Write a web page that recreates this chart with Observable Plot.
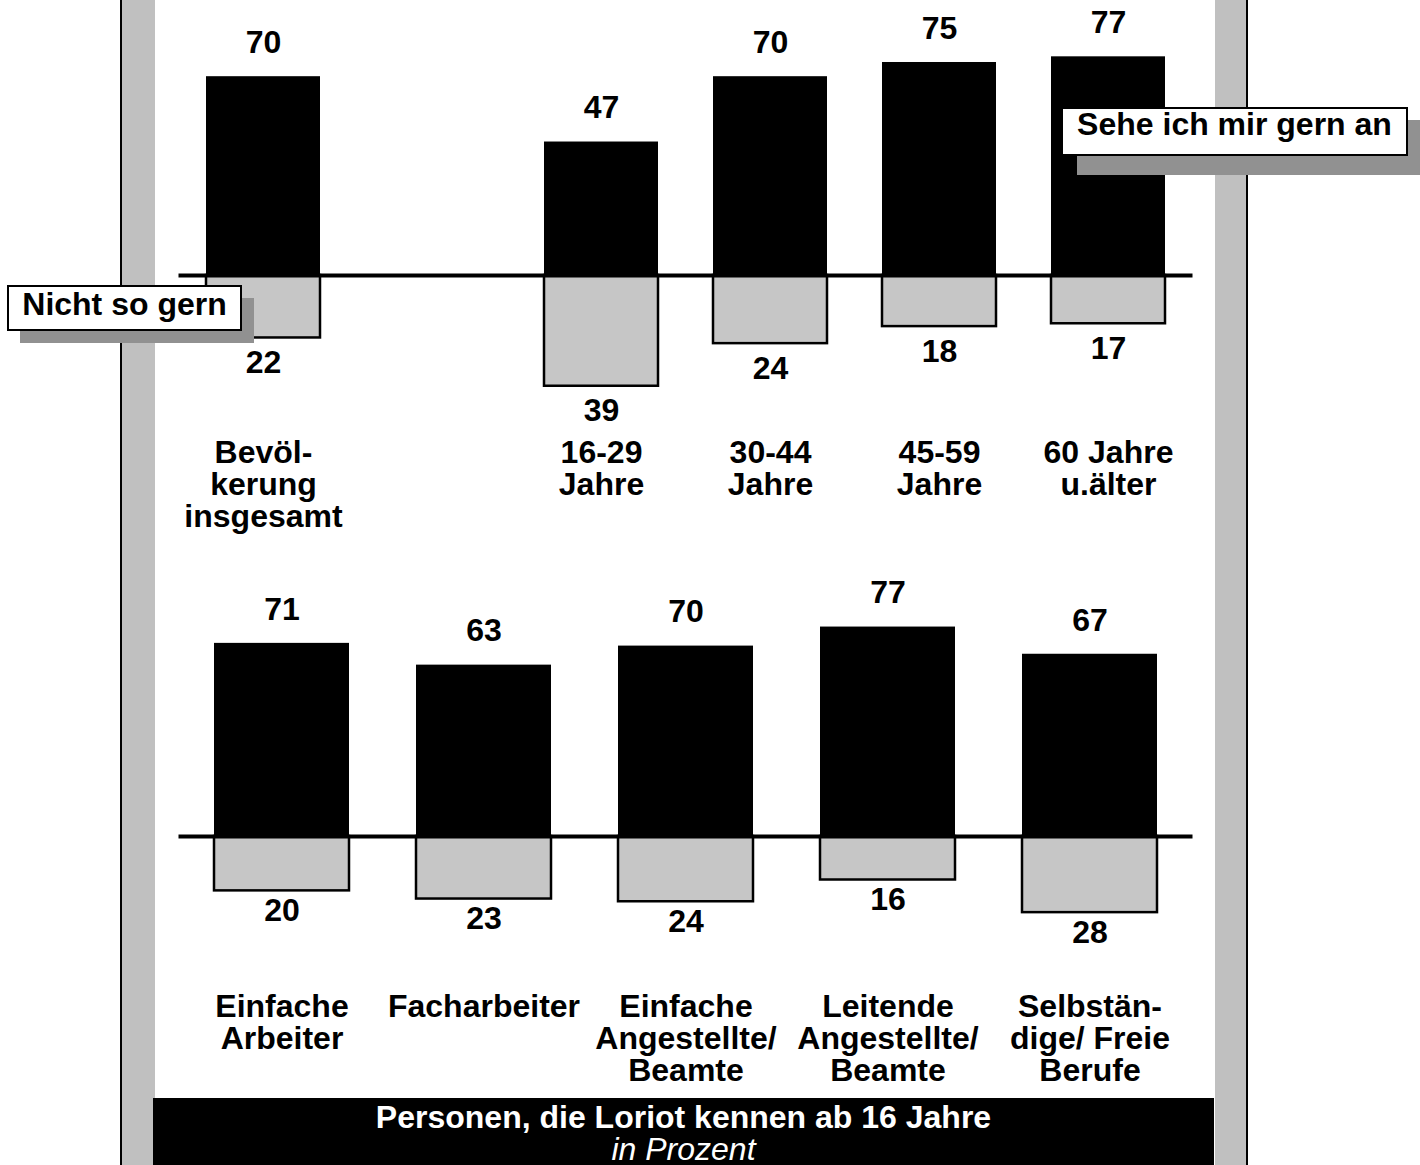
<!DOCTYPE html>
<html>
<head>
<meta charset="utf-8">
<script src="https://cdn.jsdelivr.net/npm/d3@7"></script>
<script src="https://cdn.jsdelivr.net/npm/@observablehq/plot@0.6"></script>
<style>
  html, body { margin: 0; padding: 0; background: #fff; }
  #page { position: relative; width: 1420px; height: 1165px; overflow: hidden; background: #fff;
          font-family: "Liberation Sans", Arial, Helvetica, sans-serif; }
  .abs { position: absolute; }
  .frameline { background: #000; top: 0; height: 1165px; width: 2px; }
  .framegray { background: #c0c0c0; top: 0; height: 1165px; }
  .shadow { background: #919191; z-index: 5; }
  .box { background: #fff; border: 2px solid #000; box-sizing: border-box; z-index: 6;
         font-weight: bold; font-size: 32px; text-align: center; white-space: nowrap; color: #000; }
  #caption { left: 153px; top: 1098px; width: 1061px; height: 70px; background: #000; color: #fff;
             text-align: center; font-size: 32px; line-height: 32px; padding-top: 3px; box-sizing: border-box; }
  #caption b { font-weight: bold; }
  #caption i { font-style: italic; }
  #topChart { left: 155px; top: 0px; z-index: 2; }
  #bottomChart { left: 155px; top: 560px; z-index: 2; }
</style>
</head>
<body>
<div id="page">
  <div class="abs frameline" style="left:120px"></div>
  <div class="abs framegray" style="left:122px; width:33px"></div>
  <div class="abs framegray" style="left:1215px; width:31px"></div>
  <div class="abs frameline" style="left:1246px"></div>

  <div class="abs" id="topChart"></div>
  <div class="abs" id="bottomChart"></div>

  <div class="abs shadow" style="left:1077px; top:120px; width:347px; height:55px"></div>
  <div class="abs box" style="left:1061px; top:107px; width:347px; height:49px; line-height:31px">Sehe ich mir gern an</div>

  <div class="abs shadow" style="left:20px; top:298px; width:234px; height:45px"></div>
  <div class="abs box" style="left:7px; top:285px; width:235px; height:46px; line-height:34px">Nicht so gern</div>

  <div class="abs" id="caption"><b>Personen, die Loriot kennen ab 16 Jahre</b><br><i>in Prozent</i></div>
</div>
<script>
// ---- Data ----
const topCategories = ["Bevölkerung insgesamt", "16-29 Jahre", "30-44 Jahre", "45-59 Jahre", "60 Jahre u.älter"];
const topLabels = ["Bevöl-\nkerung\ninsgesamt", "16-29\nJahre", "30-44\nJahre", "45-59\nJahre", "60 Jahre\nu.älter"];
const topGern = [70, 47, 70, 75, 77];
const topNicht = [22, 39, 24, 18, 17];

const bottomCategories = ["Einfache Arbeiter", "Facharbeiter", "Einfache Angestellte/Beamte", "Leitende Angestellte/Beamte", "Selbständige/Freie Berufe"];
const bottomLabels = ["Einfache\nArbeiter", "Facharbeiter", "Einfache\nAngestellte/\nBeamte", "Leitende\nAngestellte/\nBeamte", "Selbstän-\ndige/ Freie\nBerufe"];
const bottomGern = [71, 63, 70, 77, 67];
const bottomNicht = [20, 23, 24, 16, 28];

const spacer = "\u2002"; // empty slot between total and age groups

const FONT = "'Liberation Sans', Arial, Helvetica, sans-serif";

function panel({categories, labels, gern, nicht, domainX, yDomain, height, marginTop, marginBottom, paddingInner, negDy}) {
  const rows = categories.map((c, i) => ({key: c, gern: gern[i], nicht: nicht[i]}));
  const labelMap = new Map(categories.map((c, i) => [c, labels[i]]));
  return Plot.plot({
    width: 1060,
    height,
    marginLeft: 23.5,
    marginRight: 22.5,
    marginTop,
    marginBottom,
    style: {fontFamily: FONT, background: "transparent", color: "#000", overflow: "visible"},
    x: {domain: domainX, paddingInner, paddingOuter: paddingInner / 2, label: null},
    y: {domain: yDomain, axis: null, label: null},
    marks: [
      Plot.barY(rows, {x: "key", y1: 0, y2: "gern", fill: "#000"}),
      Plot.barY(rows, {x: "key", y1: 0, y2: d => -d.nicht, fill: "#c6c6c6", stroke: "#000", strokeWidth: 2.5}),
      Plot.ruleY([0], {stroke: "#000", strokeWidth: 4}),
      Plot.text(rows, {x: "key", y: "gern", text: d => String(d.gern), dy: -34, lineAnchor: "middle",
                       fontSize: 32, fontWeight: "bold", fill: "#000"}),
      Plot.text(rows, {x: "key", y: d => -d.nicht, text: d => String(d.nicht), dy: negDy, lineAnchor: "middle",
                       fontSize: 32, fontWeight: "bold", fill: "#000"}),
      Plot.axisX({tickSize: 0, tickPadding: 0, label: null, tickFormat: d => labelMap.get(d) ?? "",
                  fontSize: 32, fontWeight: "bold", lineHeight: 1, fill: "#000"})
    ]
  });
}

const topChart = panel({
  categories: topCategories, labels: topLabels, gern: topGern, nicht: topNicht,
  domainX: [topCategories[0], spacer, ...topCategories.slice(1)],
  yDomain: [-58, 95], height: 540, marginTop: 5.2, marginBottom: 100.3,
  paddingInner: 0.325, negDy: 25
});
document.getElementById("topChart").appendChild(topChart);

const bottomChart = panel({
  categories: bottomCategories, labels: bottomLabels, gern: bottomGern, nicht: bottomNicht,
  domainX: bottomCategories,
  yDomain: [-58.1, 100], height: 535, marginTop: 4, marginBottom: 101,
  paddingInner: 0.33, negDy: 20
});
document.getElementById("bottomChart").appendChild(bottomChart);
</script>
</body>
</html>
